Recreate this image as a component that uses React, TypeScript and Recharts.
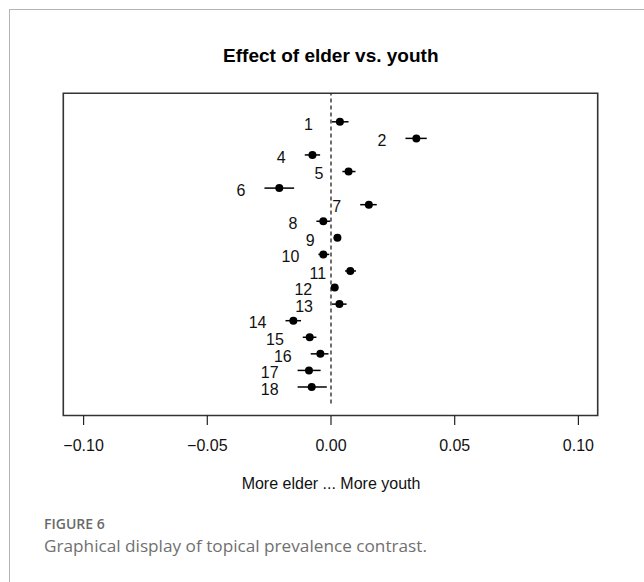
import React from 'react';
import {
  ComposedChart,
  Scatter,
  ErrorBar,
  XAxis,
  YAxis,
  ReferenceArea,
  ReferenceLine,
} from 'recharts';

// topic ids, top to bottom (topic 3 is not shown)
const topics = ['1', '2', '4', '5', '6', '7', '8', '9', '10', '11', '12', '13', '14', '15', '16', '17', '18'];
// point estimates of the difference (youth - elder)
const estimates = [0.0036, 0.0345, -0.0075, 0.0071, -0.0209, 0.0153, -0.0031, 0.0026, -0.0031, 0.0078, 0.0015, 0.0034, -0.0152, -0.0086, -0.0043, -0.0089, -0.0078];
// 95% interval bounds
const lower = [0.0004, 0.0301, -0.0106, 0.0046, -0.0269, 0.0118, -0.0059, 0.0011, -0.0051, 0.0057, 0.0001, 0.0004, -0.0184, -0.0114, -0.0082, -0.0135, -0.0135];
const upper = [0.0071, 0.0387, -0.0044, 0.0099, -0.0149, 0.0185, -0.0003, 0.0039, -0.0007, 0.0101, 0.0029, 0.0063, -0.0121, -0.0059, -0.0010, -0.0042, -0.0017];
const xTicks = [-0.1, -0.05, 0, 0.05, 0.1];

const X_DOMAIN: [number, number] = [-0.1082, 0.1078];
const Y_DOMAIN: [number, number] = [-0.72, 18.72];
const FONT = '"Liberation Sans", Arial, Helvetica, sans-serif';

const rows = topics.map((t, i) => ({
  topic: t,
  row: topics.length - i,
  est: estimates[i],
  lo: lower[i],
  err: [estimates[i] - lower[i], upper[i] - estimates[i]],
}));

const fmt = (v: number) => (v < 0 ? '\u2212' : '') + Math.abs(v).toFixed(2);

const Dot = (props: any) => {
  const { cx, cy } = props;
  if (cx == null || cy == null) return null;
  return <circle cx={cx} cy={cy} r={4} fill="#000" />;
};

// topic label sits left of the interval's lower end
const TopicLabel = (props: any) => {
  const { cx, cy, payload } = props;
  if (cx == null || cy == null) return null;
  return (
    <text x={cx - 19} y={cy + 7.8} textAnchor="end" fontSize={16} fontFamily={FONT} fill="#111">
      {payload.topic}
    </text>
  );
};

export default function App() {
  return (
    <div style={{ position: 'fixed', left: 0, top: 0, width: 644, height: 582, background: '#fff', overflow: 'hidden' }}>
      <div
        style={{
          position: 'absolute', left: 9, top: 9, width: 640, height: 580,
          borderLeft: '1px solid #b4b4b4', borderTop: '1px solid #b4b4b4',
        }}
      />
      <div
        style={{
          position: 'absolute', left: 0, top: 45.9, width: 661.6, textAlign: 'center',
          fontFamily: FONT, fontWeight: 700, fontSize: 19, lineHeight: '19px', color: '#000',
        }}
      >
        Effect of elder vs. youth
      </div>
      <div style={{ position: 'absolute', left: 0, top: 0 }}>
        <ComposedChart
          width={644}
          height={582}
          data={rows}
          margin={{ top: 93.3, right: 46.3, bottom: 126.5, left: 63.3 }}
        >
          <XAxis
            type="number"
            dataKey="est"
            domain={X_DOMAIN}
            ticks={xTicks}
            allowDataOverflow
            height={40}
            axisLine={false}
            tickSize={9.5}
            tickMargin={14.5}
            tickLine={{ stroke: '#222', strokeWidth: 1.2 }}
            tick={{ fontSize: 16, fill: '#111', fontFamily: FONT }}
            tickFormatter={fmt}
          />
          <XAxis xAxisId="lo" type="number" dataKey="lo" domain={X_DOMAIN} allowDataOverflow height={40} hide />
          <YAxis type="number" dataKey="row" domain={Y_DOMAIN} allowDataOverflow hide />
          <ReferenceArea
            x1={X_DOMAIN[0]}
            x2={X_DOMAIN[1]}
            y1={Y_DOMAIN[0]}
            y2={Y_DOMAIN[1]}
            fill="none"
            stroke="#333"
            strokeWidth={1.6}
            ifOverflow="visible"
          />
          <ReferenceLine
            segment={[{ x: 0, y: 0 }, { x: 0, y: Y_DOMAIN[1] }]}
            stroke="#222"
            strokeWidth={1.3}
            strokeDasharray="4 3"
            ifOverflow="visible"
          />
          <Scatter xAxisId="lo" data={rows} dataKey="row" shape={<TopicLabel />} isAnimationActive={false} />
          <Scatter data={rows} dataKey="row" shape={<Dot />} isAnimationActive={false}>
            <ErrorBar dataKey="err" direction="x" width={0} stroke="#000" strokeWidth={1.5} />
          </Scatter>
        </ComposedChart>
      </div>
      <div
        style={{
          position: 'absolute', left: 0, top: 475.5, width: 662, textAlign: 'center',
          fontFamily: FONT, fontSize: 16, lineHeight: '16px', color: '#111',
        }}
      >
        More elder ... More youth
      </div>
      <div
        style={{
          position: 'absolute', left: 44, top: 517.3,
          fontFamily: '"Open Sans", sans-serif', fontWeight: 600, fontSize: 14, lineHeight: '14px', color: '#6a6a6a',
        }}
      >
        FIGURE 6
      </div>
      <div
        style={{
          position: 'absolute', left: 44, top: 537.2, whiteSpace: 'nowrap',
          fontFamily: '"Open Sans", sans-serif', fontSize: 17.2, lineHeight: '17px', color: '#707070',
        }}
      >
        Graphical display of topical prevalence contrast.
      </div>
    </div>
  );
}
